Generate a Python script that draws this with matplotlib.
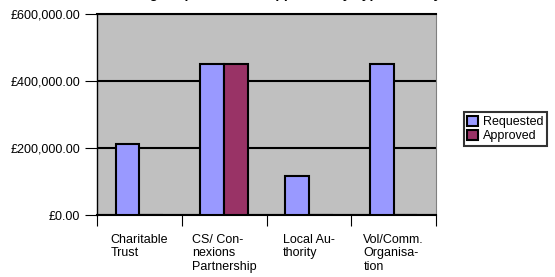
import matplotlib.pyplot as plt
import numpy as np

plt.rcParams['font.family'] = ['Liberation Sans', 'DejaVu Sans']

categories = ['Charitable\nTrust', 'CS/ Con-\nnexions\nPartnership',
              'Local Au-\nthority', 'Vol/Comm.\nOrganisa-\ntion']
requested = [211000, 450000, 117000, 450000]
approved = [0, 450000, 0, 0]
yticks = [0, 200000, 400000, 600000]
ytick_labels = ['£0.00', '£200,000.00', '£400,000.00', '£600,000.00']

fig = plt.figure(figsize=(5.55, 2.77), dpi=100)
ax = fig.add_axes([97 / 555, 1 - 215 / 277, (436 - 97) / 555, (215 - 14) / 277])
ax.set_facecolor('#C0C0C0')

x = np.arange(len(categories))
w = 0.28
ax.bar(x - w / 2, requested, w, color='#9999FF', edgecolor='black', linewidth=1.5,
       label='Requested', zorder=3)
ax.bar(x + w / 2, approved, w, color='#993366', edgecolor='black', linewidth=1.5,
       label='Approved', zorder=3)

ax.set_ylim(0, 600000)
ax.set_xlim(-0.5, len(categories) - 0.5)
ax.set_yticks(yticks)
ax.set_yticklabels(ytick_labels, fontsize=9)
ax.yaxis.grid(True, color='black', linewidth=1.5, zorder=1)
ax.set_axisbelow(True)
ax.tick_params(axis='y', length=9, width=0.8, direction='out', pad=3)

# category boundary ticks on x axis
ax.set_xticks(np.arange(len(categories) + 1) - 0.5)
ax.set_xticklabels([])
ax.tick_params(axis='x', length=8, width=0.8, direction='out')
for i, c in enumerate(categories):
    ax.text(i, -0.095, c, transform=ax.get_xaxis_transform(), ha='center', va='top',
            multialignment='left', fontsize=9, linespacing=1.15)

for s in ['left', 'bottom']:
    ax.spines[s].set_color('black')
    ax.spines[s].set_linewidth(1.0)
ax.spines['bottom'].set_linewidth(1.5)
ax.spines['top'].set_linewidth(1.5)
ax.spines['right'].set_color('#808080')
ax.spines['right'].set_linewidth(0.8)

# title sits mostly above the canvas, only the descenders show
fig.text(0.49, 0.997, 'Funding Requested and Approved by Type of Body',
         ha='center', va='bottom', fontsize=10, fontweight='bold')

leg = ax.legend(loc='center left', bbox_to_anchor=(464 / 555, 1 - 129 / 277),
                bbox_transform=fig.transFigure, fontsize=9, frameon=True,
                fancybox=False, edgecolor='black', borderpad=0.25,
                handlelength=0.9, handleheight=0.9, handletextpad=0.4,
                labelspacing=0.15, borderaxespad=0)
leg.get_frame().set_linewidth(1.5)

fig.savefig('out.png', dpi=100)
